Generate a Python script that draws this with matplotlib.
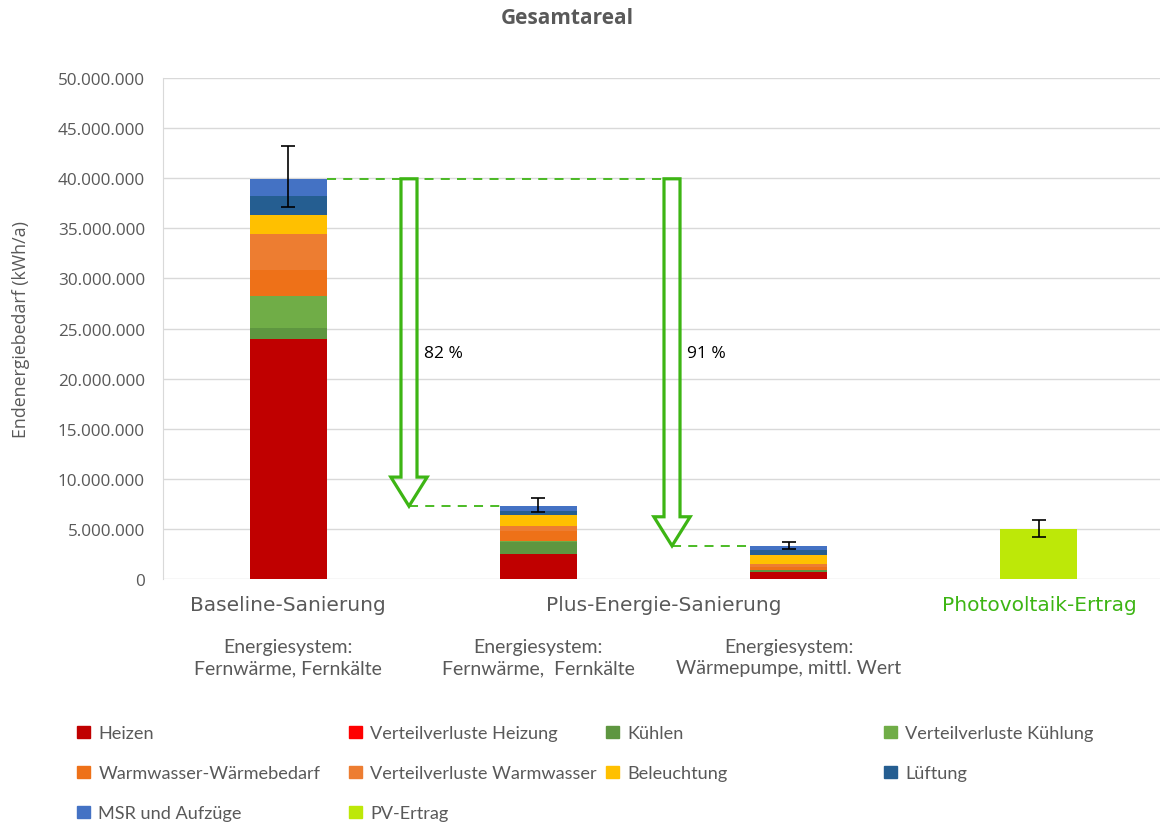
import matplotlib
matplotlib.use("Agg")
import matplotlib.pyplot as plt
import matplotlib.ticker as ticker
from matplotlib.patches import FancyArrow, Patch
import numpy as np

# ── data (kWh/a, millions) ────────────────────────────────────────────────────
scenarios = ["Baseline FW", "Plus FW", "Plus WP", "PV"]
components = [
    "Heizen", "Verteilverluste Heizung", "Kühlen", "Verteilverluste Kühlung",
    "Warmwasser-Wärmebedarf", "Verteilverluste Warmwasser", "Beleuchtung",
    "Lüftung", "MSR und Aufzüge",
]
heizen       = [23.92, 2.50, 0.65]
vv_heizung   = [0.00, 0.00, 0.00]
kuehlen      = [1.13, 1.20, 0.26]
vv_kuehlung  = [3.22, 0.05, 0.00]
warmwasser   = [2.57, 1.00, 0.30]
vv_warmwasser = [3.60, 0.57, 0.27]
beleuchtung  = [1.85, 1.03, 0.90]
lueftung     = [1.90, 0.47, 0.49]
msr          = [1.75, 0.45, 0.44]
pv_ertrag    = 5.00

err_minus = [2.84, 0.62, 0.31, 0.80]
err_plus  = [3.26, 0.78, 0.41, 0.90]

pct_labels = ["82 %", "91 %"]
group_labels = ["Baseline-Sanierung", "Plus-Energie-Sanierung", "Photovoltaik-Ertrag"]
system_labels = ["Energiesystem:\nFernwärme, Fernkälte",
                 "Energiesystem:\nFernwärme,  Fernkälte",
                 "Energiesystem:\nWärmepumpe, mittl. Wert"]

colors = ["#C00000", "#FF0000", "#5E9640", "#70AD47", "#EE7118",
          "#ED7D31", "#FFC000", "#255E91", "#4472C4"]
pv_color = "#BDE808"
arrow_green = "#3DB514"
grey = "#595959"

stack = np.array([heizen, vv_heizung, kuehlen, vv_kuehlung, warmwasser,
                  vv_warmwasser, beleuchtung, lueftung, msr]) * 1e6

fig = plt.figure(figsize=(11.6, 8.28), dpi=100)
ax = fig.add_axes([163 / 1160, 1 - 580 / 828, 997 / 1160, 501 / 828])

x = np.arange(4)
w = 0.308
bottom = np.zeros(3)
for vals, col in zip(stack, colors):
    ax.bar(x[:3], vals, w, bottom=bottom, color=col, zorder=3)
    bottom += vals
ax.bar(x[3], pv_ertrag * 1e6, w, color=pv_color, zorder=3)

totals = np.append(bottom, pv_ertrag * 1e6)
ax.errorbar(x, totals, yerr=[np.array(err_minus) * 1e6, np.array(err_plus) * 1e6],
            fmt="none", ecolor="black", elinewidth=1.2, capsize=5, capthick=1.2, zorder=5)

# reduction arrows + dashed guide lines
arrow_x = [0.483, 1.534]
top = totals[0]
for ax_x, target in zip(arrow_x, totals[1:3]):
    ax.add_patch(FancyArrow(ax_x, top, 0, -(top - target), width=0.064,
                            head_width=0.145, head_length=2.9e6,
                            length_includes_head=True, fill=False,
                            edgecolor=arrow_green, lw=2.3, zorder=4))
ax.plot([w / 2, arrow_x[1] + 0.032], [top, top], ls=(0, (5, 4)),
        color=arrow_green, lw=1.3, zorder=4)
ax.plot([arrow_x[0], 1 - w / 2], [totals[1]] * 2, ls=(0, (5, 4)),
        color=arrow_green, lw=1.3, zorder=4)
ax.plot([arrow_x[1], 2 - w / 2], [totals[2]] * 2, ls=(0, (5, 4)),
        color=arrow_green, lw=1.3, zorder=4)
for ax_x, lab in zip(arrow_x, pct_labels):
    ax.text(ax_x + 0.06, 22.6e6, lab, fontsize=12.5, family="Open Sans",
            va="center", ha="left", color="black")

# axes styling
ax.set_xlim(-0.5, 3.484)
ax.set_ylim(0, 50e6)
ax.yaxis.set_major_locator(ticker.MultipleLocator(5e6))
ax.yaxis.set_major_formatter(ticker.FuncFormatter(
    lambda v, p: f"{int(v):,}".replace(",", ".")))
ax.grid(axis="y", color="#D9D9D9", lw=1, zorder=0)
for s in ["top", "right", "bottom"]:
    ax.spines[s].set_visible(False)
ax.spines["left"].set_color("#D9D9D9")
ax.set_xticks([])
ax.tick_params(axis="y", length=0, pad=13, labelsize=12.3, labelcolor=grey)
for t in ax.get_yticklabels():
    t.set_family("Open Sans")
ax.set_ylabel("Endenergiebedarf (kWh/a)", fontsize=12.8, color=grey,
              family="Open Sans", labelpad=20)

trans = ax.get_xaxis_transform()
for gx, lab, col in zip([0, 1.5, 3.0], group_labels, [grey, grey, arrow_green]):
    ax.text(gx, -0.05, lab, transform=trans, ha="center", va="center",
            fontsize=14.5, color=col, family="DejaVu Sans", clip_on=False)
for gx, lab in zip([0, 1, 2], system_labels):
    ax.text(gx, -0.156, lab, transform=trans, ha="center", va="center",
            fontsize=14, color=grey, family="Lato", linespacing=1.3,
            clip_on=False)

fig.text(567 / 1160, 1 - 18 / 828, "Gesamtareal", ha="center", va="center",
         fontsize=15, fontweight="bold", color=grey, family="Open Sans")

# legend, four fixed-width columns
handles = [Patch(color=c, label=l) for c, l in zip(colors, components)]
handles.append(Patch(color=pv_color, label="PV-Ertrag"))
col_x = [61, 333, 590, 868]
for i, cx in enumerate(col_x):
    hs = handles[i::4]
    leg = fig.legend(handles=hs, loc="upper left",
                     bbox_to_anchor=(cx / 1160, 1 - 710 / 828),
                     frameon=False, handlelength=0.7, handleheight=0.7,
                     handletextpad=0.45, labelspacing=1.32,
                     prop={"family": "Lato", "size": 13.1})
    for t in leg.get_texts():
        t.set_color(grey)

fig.savefig("out.png", dpi=100)
